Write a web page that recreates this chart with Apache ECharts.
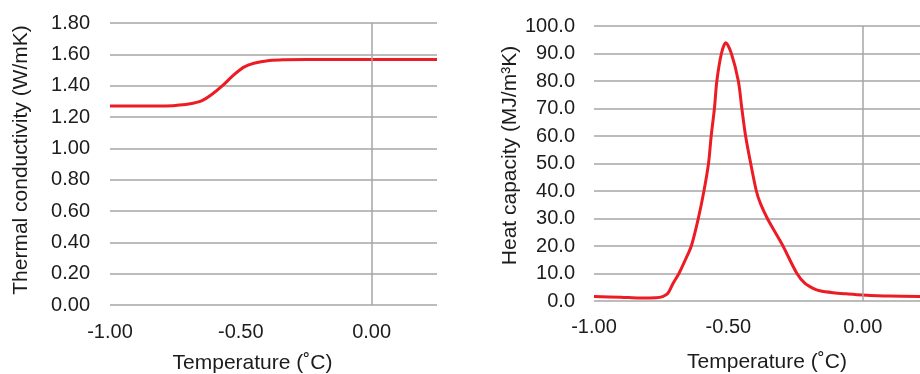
<!DOCTYPE html>
<html>
<head>
<meta charset="utf-8">
<script src="https://cdn.jsdelivr.net/npm/echarts@6/dist/echarts.min.js"></script>
<style>
html,body{margin:0;padding:0;background:#fff;}
#chart{width:920px;height:374px;}
</style>
</head>
<body>
<div id="chart"></div>
<script>
// ---- Data ----
const tempK = [-1.00, -0.90, -0.80, -0.75, -0.70, -0.65, -0.61, -0.57, -0.53, -0.49, -0.45, -0.39, -0.33, -0.25, -0.10, 0.00, 0.10, 0.25];
const condK = [1.270, 1.270, 1.271, 1.274, 1.283, 1.303, 1.345, 1.400, 1.464, 1.517, 1.543, 1.560, 1.565, 1.567, 1.567, 1.567, 1.567, 1.567];

const tempC = [-1.00, -0.90, -0.83, -0.77, -0.745, -0.725, -0.706, -0.684, -0.66, -0.638, -0.612, -0.591, -0.574, -0.564, -0.552, -0.543, -0.526, -0.510, -0.489, -0.463, -0.450, -0.436, -0.417, -0.396, -0.381, -0.355, -0.326, -0.297, -0.245, -0.215, -0.185, -0.160, -0.110, -0.060, 0.00, 0.10, 0.25];
const heatC = [1.6, 1.4, 1.1, 1.2, 1.6, 2.8, 6.4, 10, 15, 20, 30, 40, 50, 60, 70, 80, 90, 93.9, 90, 80, 70, 60, 50, 40, 35.5, 30, 25, 20, 10, 6.4, 4.6, 3.7, 3.0, 2.6, 2.2, 1.8, 1.6];

const xTicks = [-1.0, -0.5, 0.0];
const leftYTitle = 'Thermal conductivity (W/mK)';
const rightYTitle = 'Heat capacity (MJ/m\u00B3K)';
const xTitle = 'Temperature (\u02DAC)';

// ---- Styles ----
const FONT = 'Liberation Sans, Arial, sans-serif';
const TXT = '#1e1b1c';
const GRID = '#a6a6a6';
const RED = '#ed1c24';

function xAxisCfg(gridIndex, margin, gap, pad) {
  return {
    type: 'value', gridIndex: gridIndex, min: -1, max: 0.25, interval: 0.5,
    axisLine: {show: false}, axisTick: {show: false}, splitLine: {show: false},
    axisLabel: {
      color: TXT, fontSize: 20, fontFamily: FONT, margin: margin,
      formatter: v => xTicks.some(t => Math.abs(t - v) < 1e-9) ? v.toFixed(2) : ''
    },
    name: xTitle, nameLocation: 'middle', nameGap: gap,
    nameTextStyle: {color: TXT, fontSize: 21, fontFamily: FONT, padding: pad}
  };
}
function yAxisCfg(gridIndex, max, interval, digits, name, gap, margin, pad) {
  return {
    type: 'value', gridIndex: gridIndex, min: 0, max: max, interval: interval,
    axisLine: {show: false}, axisTick: {show: false},
    splitLine: {show: true, lineStyle: {color: GRID, width: 1.5}},
    axisLabel: {color: TXT, fontSize: 20, fontFamily: FONT, margin: margin,
      formatter: v => v.toFixed(digits)},
    name: name, nameLocation: 'middle', nameGap: gap,
    nameTextStyle: {color: TXT, fontSize: 21, fontFamily: FONT, padding: pad}
  };
}
function zeroLine(xi, yi) {
  return {
    type: 'line', xAxisIndex: xi, yAxisIndex: yi, data: [], z: 1, silent: true,
    markLine: {silent: true, symbol: 'none', label: {show: false},
      lineStyle: {color: GRID, width: 1.5, type: 'solid'}, data: [{xAxis: 0}]}
  };
}

const chart = echarts.init(document.getElementById('chart'), null, {renderer: 'canvas'});
chart.setOption({
  animation: false,
  backgroundColor: '#fff',
  grid: [
    {left: 110, top: 23, width: 327, height: 282, containLabel: false, outerBoundsMode: 'none'},
    {left: 594, top: 26, width: 336, height: 275, containLabel: false, outerBoundsMode: 'none'}
  ],
  xAxis: [
    xAxisCfg(0, 17, 48, [0, 42, 0, 0]),
    xAxisCfg(1, 16, 51, [0, 0, 0, 10])
  ],
  yAxis: [
    yAxisCfg(0, 1.8, 0.2, 2, leftYTitle, 78, 20, [0, 0, 0, 8]),
    yAxisCfg(1, 100, 10, 1, rightYTitle, 72, 19, [0, 0, 0, 16])
  ],
  series: [
    zeroLine(0, 0),
    zeroLine(1, 1),
    {
      type: 'line', xAxisIndex: 0, yAxisIndex: 0, z: 3,
      data: tempK.map((t, i) => [t, condK[i]]),
      smooth: 0.3, showSymbol: false,
      lineStyle: {color: RED, width: 3}
    },
    {
      type: 'line', xAxisIndex: 1, yAxisIndex: 1, z: 3,
      data: tempC.map((t, i) => [t, heatC[i]]),
      smooth: 0.3, showSymbol: false,
      lineStyle: {color: RED, width: 3}
    }
  ]
});
</script>
</body>
</html>
